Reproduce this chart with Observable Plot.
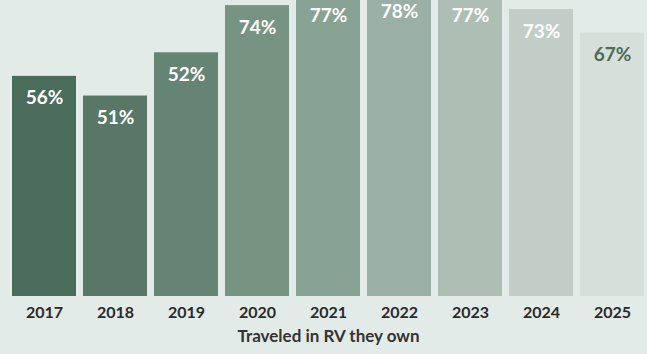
<!DOCTYPE html>
<html>
<head>
<meta charset="utf-8">
<script src="https://cdn.jsdelivr.net/npm/d3@7"></script>
<script src="https://cdn.jsdelivr.net/npm/@observablehq/plot@0.6"></script>
<style>
  html, body { margin: 0; padding: 0; background: #e3ebe8; }
  #chart svg { display: block; background: #e3ebe8; }
</style>
</head>
<body>
<div id="chart"></div>
<script>
const years = ["2017", "2018", "2019", "2020", "2021", "2022", "2023", "2024", "2025"];
// bar heights as drawn in the picture (percent)
const barValues = [56, 51, 62, 74, 77, 78, 77, 73, 67];
// printed labels
const labels = ["56%", "51%", "52%", "74%", "77%", "78%", "77%", "73%", "67%"];
const barColors = ["#4b6b5b", "#587767", "#668473", "#779382", "#88a293", "#9aafa5", "#aebeb5", "#c2cdc7", "#d6dfda"];
const labelColors = ["#ffffff", "#ffffff", "#ffffff", "#ffffff", "#ffffff", "#ffffff", "#ffffff", "#ffffff", "#4d6b5c"];
const axisTitle = "Traveled in RV they own";

const data = years.map((y, i) => ({year: y, value: barValues[i], label: labels[i], color: barColors[i], lc: labelColors[i]}));

const chart = Plot.plot({
  width: 647,
  height: 354,
  marginTop: 0,
  marginLeft: 12,
  marginRight: 3,
  marginBottom: 58,
  style: {background: "#e3ebe8", fontFamily: "Lato, sans-serif"},
  x: {domain: years, paddingInner: 0.1, paddingOuter: 0, label: null},
  y: {domain: [0, 75.3], axis: null},
  marks: [
    Plot.barY(data, {x: "year", y: "value", fill: "color", clip: true}),
    Plot.text(data, {x: "year", y: "value", text: "label", fill: "lc", dy: 22, fontSize: 19, fontWeight: 700, fontFamily: "Lato, sans-serif"}),
    Plot.axisX({tickSize: 0, tickPadding: 10, fontSize: 16, fontWeight: 700, fill: "#2a2a2a", label: null, fontFamily: "Lato, sans-serif"}),
    Plot.text([axisTitle], {frameAnchor: "bottom", dy: 45, fontSize: 17, fontWeight: 700, fill: "#333333", fontFamily: "Lato, sans-serif"})
  ]
});
document.getElementById("chart").appendChild(chart);
</script>
</body>
</html>
